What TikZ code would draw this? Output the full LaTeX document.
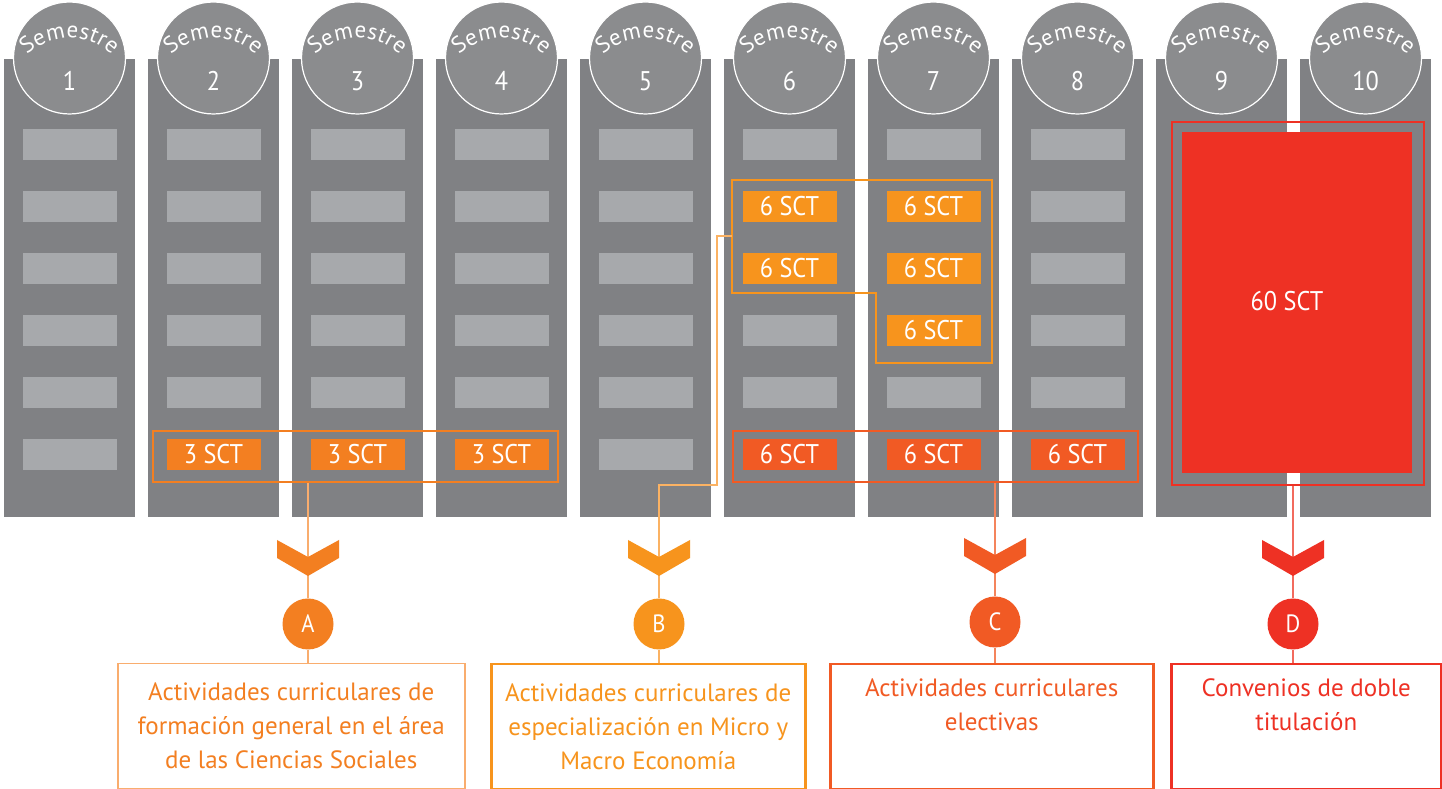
\documentclass[tikz,border=0pt]{standalone}
\usepackage{fontspec}
\setmainfont{PT Sans}[FakeStretch=0.9]
\newfontfamily\boxfont{PT Sans}
\usetikzlibrary{decorations.text}
\definecolor{colgray}{HTML}{808184}
\definecolor{circgray}{HTML}{8B8C8E}
\definecolor{cellgray}{HTML}{A7A9AC}
\definecolor{cA}{HTML}{F37F21}
\definecolor{cAl}{HTML}{F9AD6E}
\definecolor{cB}{HTML}{F7941D}
\definecolor{cBl}{HTML}{FBB263}
\definecolor{cC}{HTML}{F15A24}
\definecolor{cCl}{HTML}{F4845C}
\definecolor{cD}{HTML}{EE3124}
\definecolor{cDl}{HTML}{F26B5E}
\newcommand\semfont{\boxfont\fontsize{23}{23}\selectfont}
\begin{document}
\begin{tikzpicture}[x=1pt,y=1pt,
  colbox/.style={fill=colgray, draw=none, minimum width=131pt, minimum height=458pt, inner sep=0pt, anchor=north west},
  semcirc/.style={circle, fill=circgray, draw=white, line width=1.2pt, minimum size=112pt, inner sep=0pt},
  cell/.style={minimum width=94pt, minimum height=31pt, inner sep=0pt, text=white, font=\fontsize{27}{27}\selectfont},
  grp/.style={line width=2pt},
  conn/.style={line width=1.5pt},
  lettercirc/.style={circle, minimum size=51pt, inner sep=0pt, text=white, font=\fontsize{25}{25}\selectfont},
  txtbox/.style={anchor=north west, inner sep=0pt, align=center, font=\boxfont\fontsize{25}{34}\selectfont},
]
\useasboundingbox (0,0) rectangle (1442,789);
\fill[white] (0,0) rectangle (1442,789);
% columns and semester circles
\foreach \i in {1,...,10}{
  \pgfmathsetmacro\cx{69.5+144*(\i-1)}
  \pgfmathsetmacro\lx{4+144*(\i-1)}
  \node[colbox] (col\i) at (\lx,730) {};
  \node[semcirc] (sem\i) at (\cx,731) {};
  \path[decorate, decoration={text along path, text align={fit to path}, text color=white, text={|\semfont|Semestre}}]
    (\cx,690) ++(134:61) arc[start angle=134, end angle=46, radius=61];
  \node[text=white, font=\fontsize{27}{27}\selectfont] (num\i) at (\cx,708) {\i};
}
% gray cells
\foreach \i/\rows in {1/{1,2,3,4,5,6},2/{1,2,3,4,5},3/{1,2,3,4,5},4/{1,2,3,4,5},5/{1,2,3,4,5,6},6/{1,4,5},7/{1,5},8/{1,2,3,4,5}}{
  \foreach \r in \rows {
    \pgfmathsetmacro\cx{69.5+144*(\i-1)}
    \pgfmathsetmacro\cy{644.5-62*(\r-1)}
    \node[cell, fill=cellgray] (g\i-\r) at (\cx,\cy) {};
  }
}
% colored cells
\foreach \i/\r/\c/\t in {2/6/cA/3,3/6/cA/3,4/6/cA/3,6/2/cB/6,6/3/cB/6,7/2/cB/6,7/3/cB/6,7/4/cB/6,6/6/cC/6,7/6/cC/6,8/6/cC/6}{
  \pgfmathsetmacro\cx{69.5+144*(\i-1)}
  \pgfmathsetmacro\cy{644.5-62*(\r-1)}
  \node[cell, fill=\c] (s\i-\r) at (\cx,\cy) {\t\ SCT};
}
% D block
\node[draw=cD, grp, minimum width=252pt, minimum height=363pt, inner sep=0pt, anchor=north west] (grpD) at (1171,668) {};
\node[fill=cD, minimum width=230pt, minimum height=341pt, inner sep=0pt, anchor=north west] (sctD) at (1182,657) {};
\node[text=white, font=\fontsize{27}{27}\selectfont] (lblD) at (1287,488) {60 SCT};
% group outlines
\node[draw=cA, grp, minimum width=405pt, minimum height=51pt, inner sep=0pt, anchor=north west] (grpA) at (152,359) {};
\node[draw=cC, grp, minimum width=405pt, minimum height=51pt, inner sep=0pt, anchor=north west] (grpC) at (732,359) {};
\draw[cB, grp] (732,609) -- (992,609) -- (992,426) -- (876,426) -- (876,496) -- (732,496) -- cycle;
\coordinate (bstart) at (732,553);
\coordinate (bjoin) at (717,553);
% letter circles
\node[lettercirc, fill=cA] (circA) at (308,165) {A};
\node[lettercirc, fill=cB] (circB) at (659,165) {B};
\node[lettercirc, fill=cC] (circC) at (995,167) {C};
\node[lettercirc, fill=cD] (circD) at (1293,165) {D};
% text boxes
\node[txtbox, draw=cAl, line width=1.5pt, text=cA, minimum width=347pt, minimum height=125pt] (boxA) at (117,126)
  {Actividades curriculares de\\formación general en el área\\de las Ciencias Sociales};
\node[txtbox, draw=cB, line width=2.5pt, text=cB, minimum width=314pt, minimum height=125pt] (boxB) at (490,126)
  {Actividades curriculares de\\especialización en Micro y\\Macro Economía};
\node[txtbox, draw=cC, line width=2.5pt, text=cC, minimum width=323pt, minimum height=125pt] (boxC) at (829,126)
  {Actividades curriculares\\electivas\\\strut};
\node[txtbox, draw=cD, line width=2.5pt, text=cD, minimum width=270pt, minimum height=125pt] (boxD) at (1170,126)
  {Convenios de doble\\titulación\\\strut};
% connectors
\draw[conn, cAl] (grpA.south -| circA) -- (circA.north);
\draw[conn, cAl] (circA.south) -- (circA |- boxA.north);
\draw[conn, cBl] (bstart) -- (bjoin) |- (circB |- 0,304) -- (circB.north);
\draw[conn, cBl] (circB.south) -- (circB |- boxB.north);
\draw[conn, cCl] (grpC.south -| circC) -- (circC.north);
\draw[conn, cCl] (circC.south) -- (circC |- boxC.north);
\draw[conn, cDl] (grpD.south -| circD) -- (circD.north);
\draw[conn, cDl] (circD.south) -- (circD |- boxD.north);
% chevrons
\foreach \n/\c in {A/cA,B/cB,C/cC,D/cD}{
  \fill[\c] ([shift={(-31,84)}]circ\n.center) -- ([shift={(0,67)}]circ\n.center) -- ([shift={(31,84)}]circ\n.center)
    -- ([shift={(31,66)}]circ\n.center) -- ([shift={(0,48)}]circ\n.center) -- ([shift={(-31,66)}]circ\n.center) -- cycle;
}
\end{tikzpicture}
\end{document}
